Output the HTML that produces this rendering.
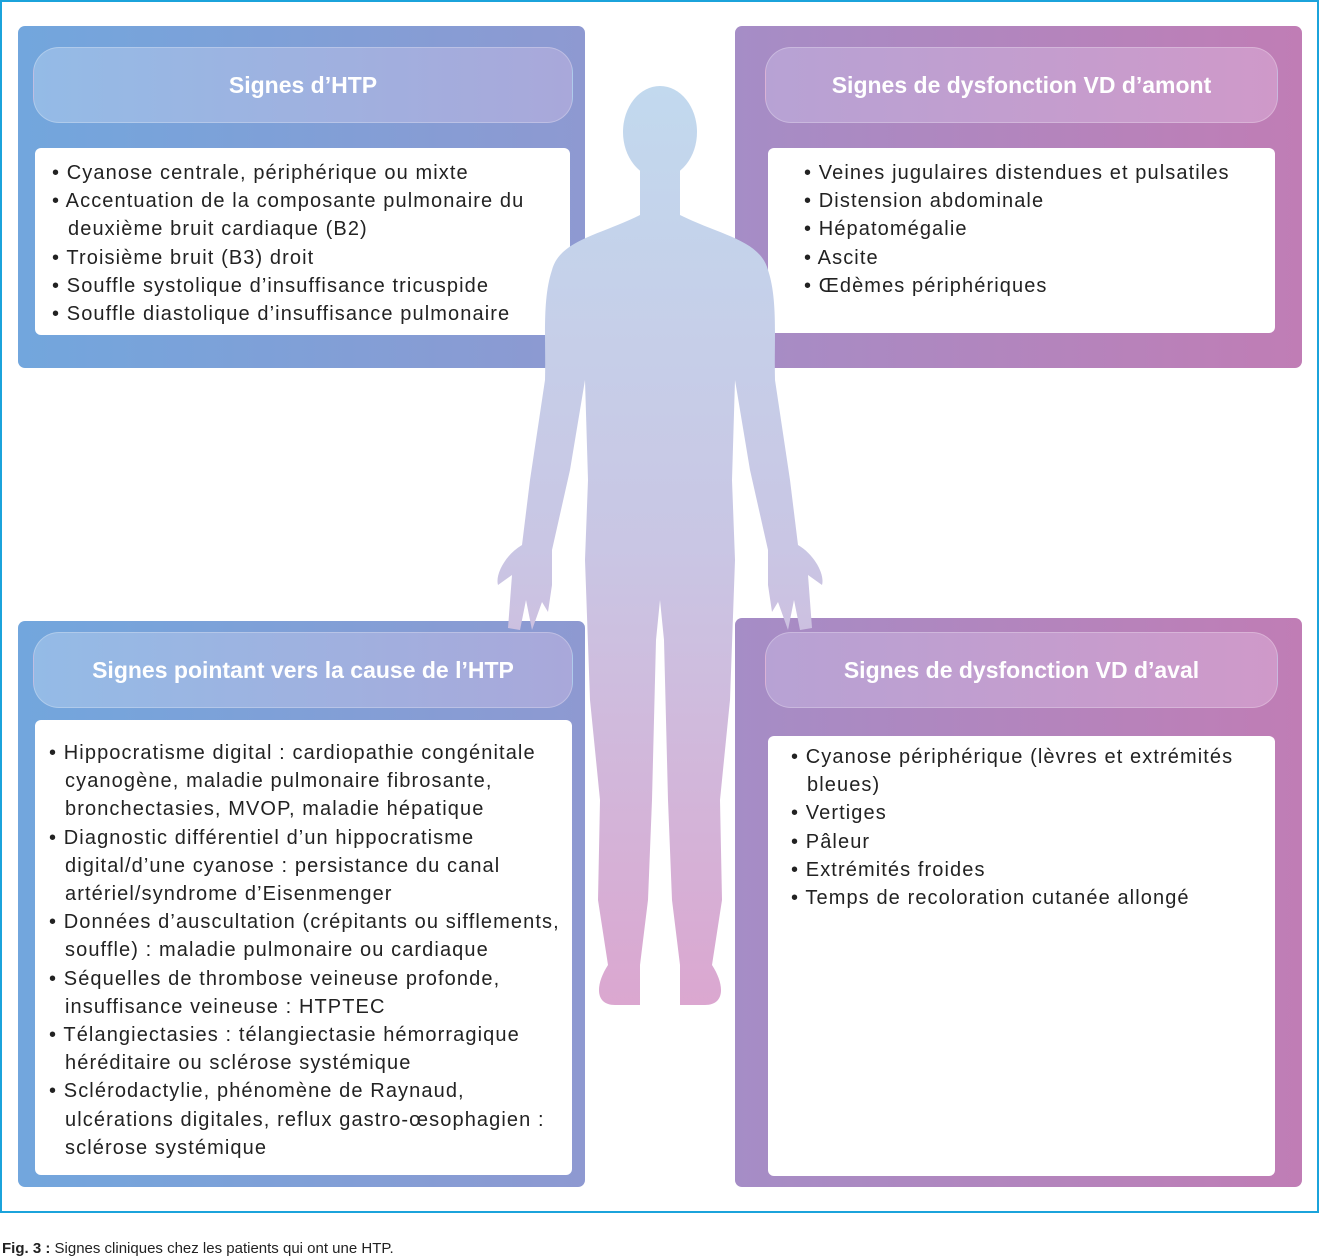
<!DOCTYPE html>
<html><head><meta charset="utf-8"><style>
body{margin:0;width:1320px;height:1260px;background:#fff;position:relative;font-family:"Liberation Sans",sans-serif;overflow:hidden}
.frame{position:absolute;left:0;top:0;width:1315px;height:1209px;border:2px solid #1ba3db}
.box{position:absolute;border-radius:7px}
.blue{background:linear-gradient(90deg,#72a6dd,#8e99d1)}
.pink{background:linear-gradient(90deg,#a58dc6,#c07db5)}
.hd{position:absolute;border-radius:26px;color:#fff;font-weight:bold;font-size:23px;display:flex;align-items:center;justify-content:center;border:1px solid rgba(255,255,255,.25)}
.hb{background:linear-gradient(90deg,#94bbe6,#a9a8da)}
.hp{background:linear-gradient(90deg,#b7a2d4,#cf99c9)}
.wt{position:absolute;background:#fff;border-radius:6px}
.tx{position:absolute;font-size:20px;line-height:28.2px;color:#222;white-space:nowrap;letter-spacing:1.1px}
.tx div{padding-left:16px;text-indent:-16px}
.cap{position:absolute;left:2px;top:1240px;font-size:15px;color:#222}
</style></head><body>
<div class="frame"></div>
<div class="box blue" style="left:18px;top:26px;width:567px;height:342px"></div>
<div class="hd hb" style="left:33px;top:47px;width:538px;height:74px">Signes d’HTP</div>
<div class="wt" style="left:35px;top:148px;width:535px;height:187px"></div>
<div class="box pink" style="left:735px;top:26px;width:567px;height:342px"></div>
<div class="hd hp" style="left:765px;top:47px;width:511px;height:74px">Signes de dysfonction VD d’amont</div>
<div class="wt" style="left:768px;top:148px;width:507px;height:185px"></div>
<div class="box blue" style="left:18px;top:621px;width:567px;height:566px"></div>
<div class="hd hb" style="left:33px;top:632px;width:538px;height:74px">Signes pointant vers la cause de l’HTP</div>
<div class="wt" style="left:35px;top:720px;width:537px;height:455px"></div>
<div class="box pink" style="left:735px;top:618px;width:567px;height:569px"></div>
<div class="hd hp" style="left:765px;top:632px;width:511px;height:74px">Signes de dysfonction VD d’aval</div>
<div class="wt" style="left:768px;top:736px;width:507px;height:440px"></div>

<svg style="position:absolute;left:0;top:0" width="1320" height="1260">
<defs><linearGradient id="g" gradientUnits="userSpaceOnUse" x1="0" y1="86" x2="0" y2="1005">
<stop offset="0" stop-color="#c2d9ee"/><stop offset="0.5" stop-color="#c9c6e4"/><stop offset="1" stop-color="#dba7d0"/></linearGradient></defs>
<g fill="url(#g)">
<ellipse cx="660" cy="132" rx="37" ry="46"/>
<path d="M640 170 L640 215 C600 235 560 240 552 270 C542 300 546 340 545 380 L530 480 L522 545 C505 555 495 575 498 585 L512 575 L508 628 L520 630 L526 600 L532 630 L542 602 L548 612 L552 585 L552 550 L570 470 L585 380 L588 480 L585 560 L590 700 L600 800 L598 900 L608 965 C595 985 595 1005 615 1005 L640 1005 L640 965 L648 900 L652 800 L656 640 L660 600 L664 640 L668 800 L672 900 L680 965 L680 1005 L705 1005 C725 1005 725 985 712 965 L722 900 L720 800 L730 700 L735 560 L732 480 L735 380 L750 470 L768 550 L768 585 L772 612 L778 602 L788 630 L794 600 L800 630 L812 628 L808 575 L822 585 C825 575 815 555 798 545 L790 480 L775 380 C774 340 778 300 768 270 C760 240 720 235 680 215 L680 170 Z"/>
</g></svg>

<div class="tx" style="left:52px;top:159px">
<div>• Cyanose centrale, périphérique ou mixte</div>
<div>• Accentuation de la composante pulmonaire du<br>deuxième bruit cardiaque (B2)</div>
<div>• Troisième bruit (B3) droit</div>
<div>• Souffle systolique d’insuffisance tricuspide</div>
<div>• Souffle diastolique d’insuffisance pulmonaire</div>
</div>
<div class="tx" style="left:804px;top:159px">
<div>• Veines jugulaires distendues et pulsatiles</div>
<div>• Distension abdominale</div>
<div>• Hépatomégalie</div>
<div>• Ascite</div>
<div>• Œdèmes périphériques</div>
</div>
<div class="tx" style="left:49px;top:739px">
<div>• Hippocratisme digital : cardiopathie congénitale<br>cyanogène, maladie pulmonaire fibrosante,<br>bronchectasies, MVOP, maladie hépatique</div>
<div>• Diagnostic différentiel d’un hippocratisme<br>digital/d’une cyanose : persistance du canal<br>artériel/syndrome d’Eisenmenger</div>
<div>• Données d’auscultation (crépitants ou sifflements,<br>souffle) : maladie pulmonaire ou cardiaque</div>
<div>• Séquelles de thrombose veineuse profonde,<br>insuffisance veineuse : HTPTEC</div>
<div>• Télangiectasies : télangiectasie hémorragique<br>héréditaire ou sclérose systémique</div>
<div>• Sclérodactylie, phénomène de Raynaud,<br>ulcérations digitales, reflux gastro-œsophagien :<br>sclérose systémique</div>
</div>
<div class="tx" style="left:791px;top:743px">
<div>• Cyanose périphérique (lèvres et extrémités<br>bleues)</div>
<div>• Vertiges</div>
<div>• Pâleur</div>
<div>• Extrémités froides</div>
<div>• Temps de recoloration cutanée allongé</div>
</div>
<div class="cap"><b>Fig. 3 :</b> Signes cliniques chez les patients qui ont une HTP.</div>
</body></html>
